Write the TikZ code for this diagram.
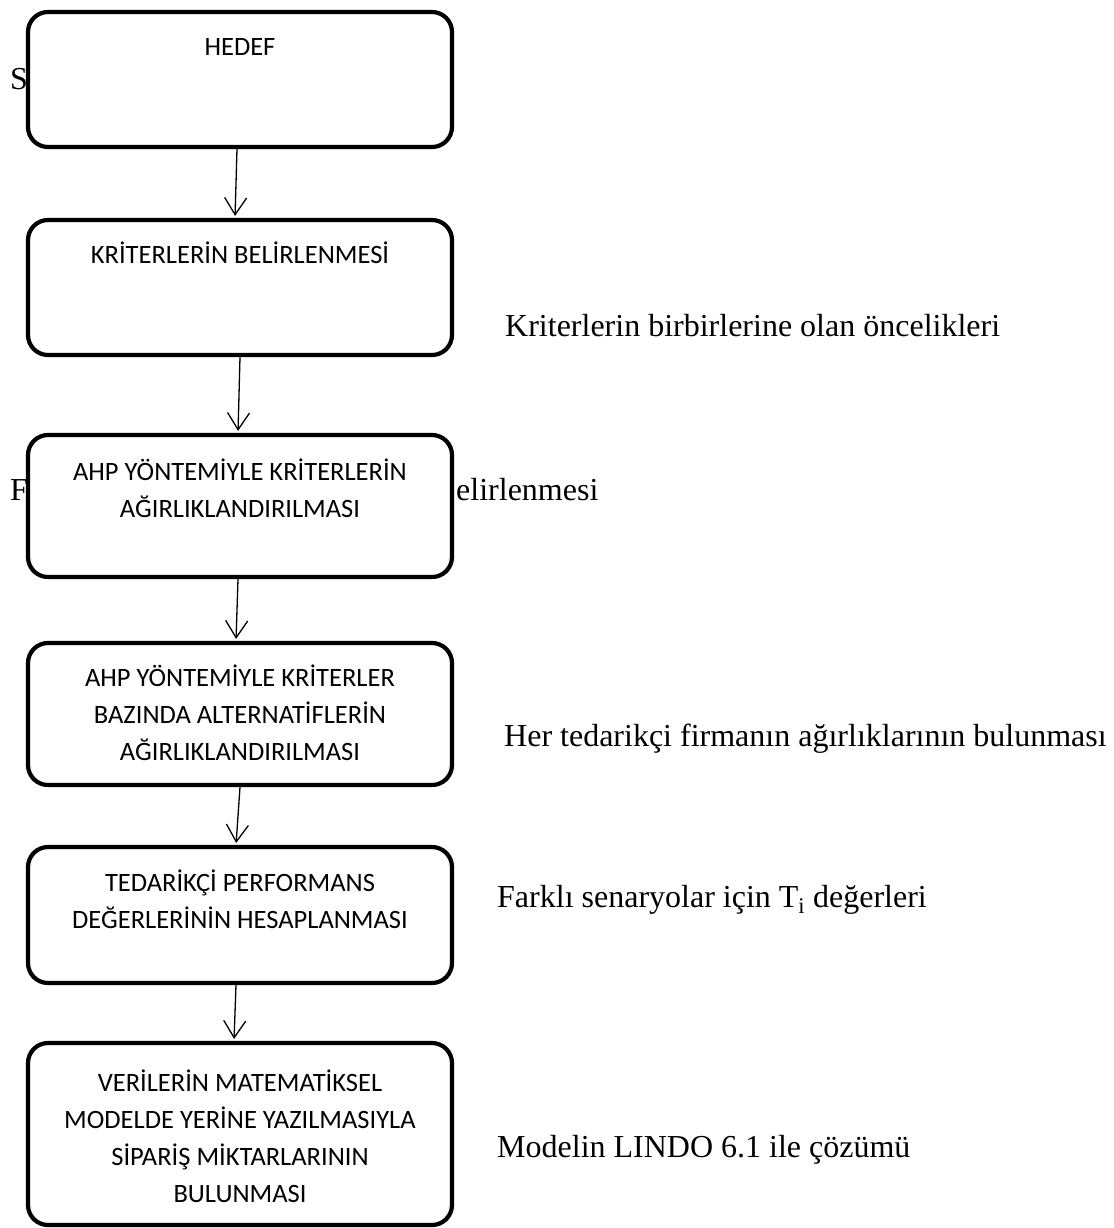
\documentclass[tikz,border=0pt]{standalone}
\usepackage{fontspec}
\setmainfont{Liberation Serif}
\newfontfamily\boxfont{Carlito}
\usetikzlibrary{arrows.meta}
\begin{document}
\begin{tikzpicture}[x=1pt,y=-1pt,
  stepbox/.style={draw, fill=white, line width=4.2pt, rounded corners=20pt,
    minimum width=424pt, inner sep=0pt},
  boxtext/.style={font=\boxfont\fontsize{26.5}{37}\selectfont, align=center,
    anchor=base, inner sep=0pt},
  sidetext/.style={font=\fontsize{32}{38}\selectfont, anchor=base west, inner sep=0pt},
  flow/.style={line width=1.3pt, shorten >=2pt,
    -{Straight Barb[length=17pt,width=22pt]}}]

\useasboundingbox (0,0) rectangle (1113,1228);

% notes on the left, partly hidden by the boxes
\node[sidetext] (sS) at (10,90) {S};
\node[sidetext] (sF) at (10,500) {F};
\node[sidetext] (sB) at (456,500) {elirlenmesi};

% flow boxes
\node[stepbox, minimum height=135pt] (b1) at (240,79.5) {};
\node[stepbox, minimum height=135pt] (b2) at (240,287.5) {};
\node[stepbox, minimum height=142pt] (b3) at (240,506) {};
\node[stepbox, minimum height=142pt] (b4) at (240,714) {};
\node[stepbox, minimum height=136pt] (b5) at (240,915) {};
\node[stepbox, minimum height=182pt] (b6) at (240,1134) {};

% box captions (placed by the baseline of their last line)
\node[boxtext] (t1) at (240,55.5) {HEDEF};
\node[boxtext] (t2) at (240,263.5) {KRİTERLERİN BELİRLENMESİ};
\node[boxtext] (t3) at (240,517.5) {AHP YÖNTEMİYLE KRİTERLERİN\\AĞIRLIKLANDIRILMASI};
\node[boxtext] (t4) at (240,760.5) {AHP YÖNTEMİYLE KRİTERLER\\BAZINDA ALTERNATİFLERİN\\AĞIRLIKLANDIRILMASI};
\node[boxtext] (t5) at (240,928.5) {TEDARİKÇİ PERFORMANS\\DEĞERLERİNİN HESAPLANMASI};
\node[boxtext] (t6) at (240,1202.5) {VERİLERİN MATEMATİKSEL\\MODELDE YERİNE YAZILMASIYLA\\SİPARİŞ MİKTARLARININ\\BULUNMASI};

% connectors
\draw[flow] ([xshift=-3pt]b1.south) -- ([xshift=-5pt]b2.north);
\draw[flow] (b2.south) -- ([xshift=-2pt]b3.north);
\draw[flow] ([xshift=-2pt]b3.south) -- ([xshift=-4pt]b4.north);
\draw[flow] (b4.south) -- ([xshift=-4pt]b5.north);
\draw[flow] ([xshift=-4pt]b5.south) -- ([xshift=-6pt]b6.north);

% notes on the right
\node[sidetext] (n1) at (505,336) {Kriterlerin birbirlerine olan öncelikleri};
\node[sidetext] (n2) at (504,746) {Her tedarikçi firmanın ağırlıklarının bulunması};
\node[sidetext] (n3) at (497,907) {Farklı senaryolar için T\textsubscript{i} değerleri};
\node[sidetext] (n4) at (497,1157) {Modelin LINDO 6.1 ile çözümü};
\end{tikzpicture}
\end{document}
